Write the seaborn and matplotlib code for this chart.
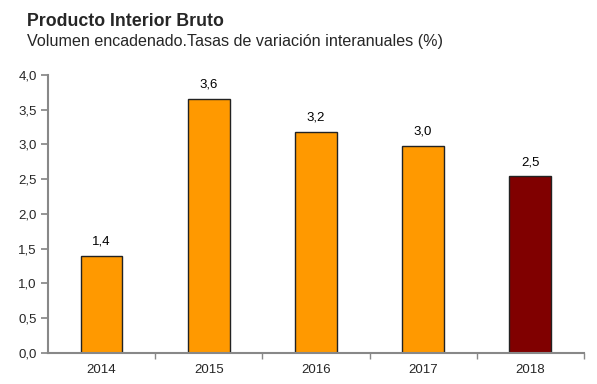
import matplotlib
matplotlib.use("Agg")
import matplotlib.pyplot as plt
import seaborn as sns
import pandas as pd

years = ["2014", "2015", "2016", "2017", "2018"]
growth = [1.39, 3.65, 3.18, 2.98, 2.54]
labels = ["1,4", "3,6", "3,2", "3,0", "2,5"]
bar_colors = ["#FF9900", "#FF9900", "#FF9900", "#FF9900", "#800000"]
y_ticks = [0.0, 0.5, 1.0, 1.5, 2.0, 2.5, 3.0, 3.5, 4.0]

sns.set_theme(style="white")
plt.rcParams["font.family"] = ["Liberation Sans", "DejaVu Sans"]

df = pd.DataFrame({"year": years, "growth": growth})

fig = plt.figure(figsize=(5.97, 3.84), dpi=100)
ax = fig.add_axes([0.0804, 0.0815, 0.8976, 0.7232])

sns.barplot(data=df, x="year", y="growth", hue="year", palette=bar_colors,
            legend=False, width=0.39, edgecolor="#222222", linewidth=1.0,
            saturation=1, ax=ax)

for i, (v, lab) in enumerate(zip(growth, labels)):
    ax.text(i, v + 0.12, lab, ha="center", va="bottom", fontsize=9.5, color="black")

ax.set_xlim(-0.5, len(years) - 0.5)
ax.set_ylim(0, 4.0)
ax.set_yticks(y_ticks)
ax.set_yticklabels([f"{t:.1f}".replace(".", ",") for t in y_ticks], fontsize=9.5)
ax.set_xticks(range(len(years)))
ax.set_xticklabels(years, fontsize=9.5)
ax.set_xlabel("")
ax.set_ylabel("")

# ticks at category boundaries on x
ax.set_xticks([i + 0.5 for i in range(len(years))], minor=True)
ax.tick_params(axis="x", which="major", length=0, pad=8)
ax.tick_params(axis="x", which="minor", length=4, color="#888888", direction="out", bottom=True)
ax.tick_params(axis="y", length=5, color="#888888", direction="out", left=True, pad=3)

for side in ["top", "right"]:
    ax.spines[side].set_visible(False)
for side in ["left", "bottom"]:
    ax.spines[side].set_color("#888888")
    ax.spines[side].set_linewidth(1.5)

fig.text(0.045, 0.943, "Producto Interior Bruto", fontsize=12.8, fontweight="bold",
         ha="left", va="center")
fig.text(0.045, 0.893, "Volumen encadenado.Tasas de variación interanuales (%)",
         fontsize=11.6, ha="left", va="center")

fig.savefig("out.png", dpi=100)
